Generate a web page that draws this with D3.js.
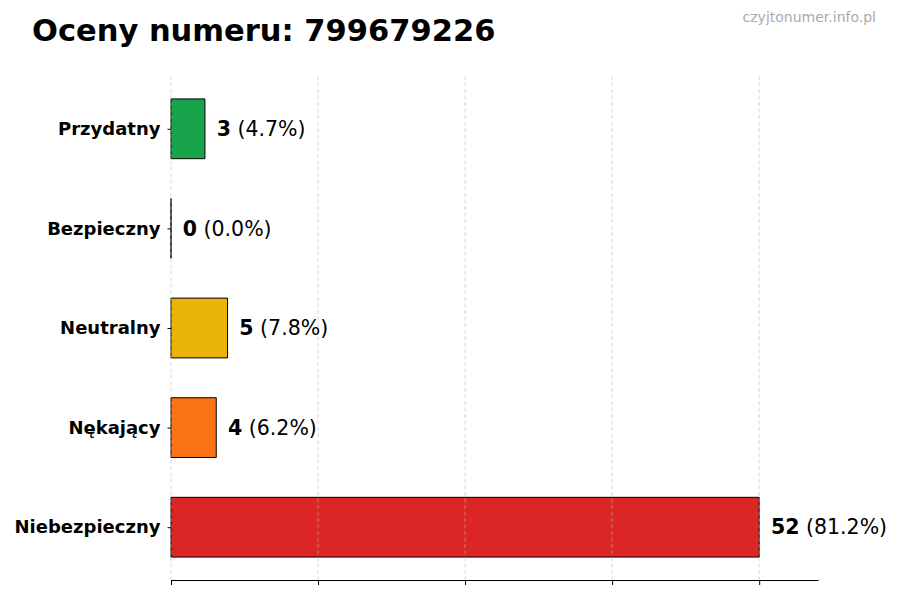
<!DOCTYPE html>
<html><head><meta charset="utf-8">
<script src="https://cdn.jsdelivr.net/npm/d3@7"></script>
<style>body{margin:0;background:#fff}svg{display:block}</style>
</head><body>
<script>
const categories = ["Niebezpieczny","Nękający","Neutralny","Bezpieczny","Przydatny"];
const values = [52,4,5,0,3];
const percents = ["81.2%","6.2%","7.8%","0.0%","4.7%"];
const colors = ["#dc2626","#f97316","#eab308","#2563eb","#16a34a"];
const xTicks = [0,13,26,39,52];
const title = "Oceny numeru: 799679226";
const watermark = "czyjtonumer.info.pl";

const W=900,H=600, mLeft=171, mRight=818, mTop=76, mBottom=580;
const svg=d3.select("body").append("svg").attr("width",W).attr("height",H)
  .style("font-family","'DejaVu Sans', sans-serif");
const maxV=d3.max(values);
const x=d3.scaleLinear().domain([0,maxV*1.1]).range([mLeft,mRight]);
const y=d3.scaleLinear().domain([-0.53,4.53]).range([mBottom,mTop]);
const bh=0.6;

// bars (as paths so zero-width bars still show their edge)
svg.selectAll("path.bar").data(values).join("path").attr("class","bar")
  .attr("d",(d,i)=>{const p=d3.path();const x0=x(0),x1=x(d),y0=y(i+bh/2),y1=y(i-bh/2);
    p.moveTo(x0,y0);p.lineTo(x1,y0);p.lineTo(x1,y1);p.lineTo(x0,y1);p.closePath();return p.toString();})
  .attr("fill",(d,i)=>colors[i]).attr("stroke","#000").attr("stroke-width",1);

// grid
svg.append("g").selectAll("line").data(xTicks).join("line")
  .attr("x1",d=>x(d)).attr("x2",d=>x(d)).attr("y1",mTop).attr("y2",mBottom)
  .attr("stroke","#bbb").attr("stroke-opacity",0.7).attr("stroke-width",0.8).attr("stroke-dasharray","4,2.5");

// x axis
const xa=svg.append("g").attr("transform",`translate(0,${mBottom})`)
  .call(d3.axisBottom(x).tickValues(xTicks).tickFormat("").tickSize(5).tickSizeOuter(0));
xa.select(".domain").attr("stroke","#000").attr("stroke-width",1.2);
xa.selectAll(".tick line").attr("stroke","#000").attr("stroke-width",1);

// y axis
const ya=svg.append("g").attr("transform",`translate(${mLeft},0)`)
  .call(d3.axisLeft(y).tickValues(d3.range(categories.length)).tickFormat(i=>categories[i]).tickSize(3.5).tickPadding(7));
ya.select(".domain").remove();
ya.selectAll(".tick line").attr("stroke","#000");
ya.selectAll(".tick text").attr("font-size","18px").attr("font-weight","bold").attr("fill","#000")
  .attr("font-family","'DejaVu Sans', sans-serif");

// value labels
const lab=svg.append("g").selectAll("text").data(values).join("text")
  .attr("x",d=>x(d+maxV*0.02)).attr("y",(d,i)=>y(i)).attr("dy","0.35em")
  .attr("font-size","20.5px").attr("fill","#000");
lab.append("tspan").attr("font-weight","bold").text(d=>d);
lab.append("tspan").text((d,i)=>" ("+percents[i]+")");

// title
svg.append("text").attr("x",32).attr("y",41).attr("font-size","30.5px").attr("font-weight","bold")
  .attr("fill","#000").text(title);
svg.append("text").attr("x",876).attr("y",22).attr("text-anchor","end").attr("font-size","14px")
  .attr("fill","#aaa").text(watermark);
</script>
</body></html>
